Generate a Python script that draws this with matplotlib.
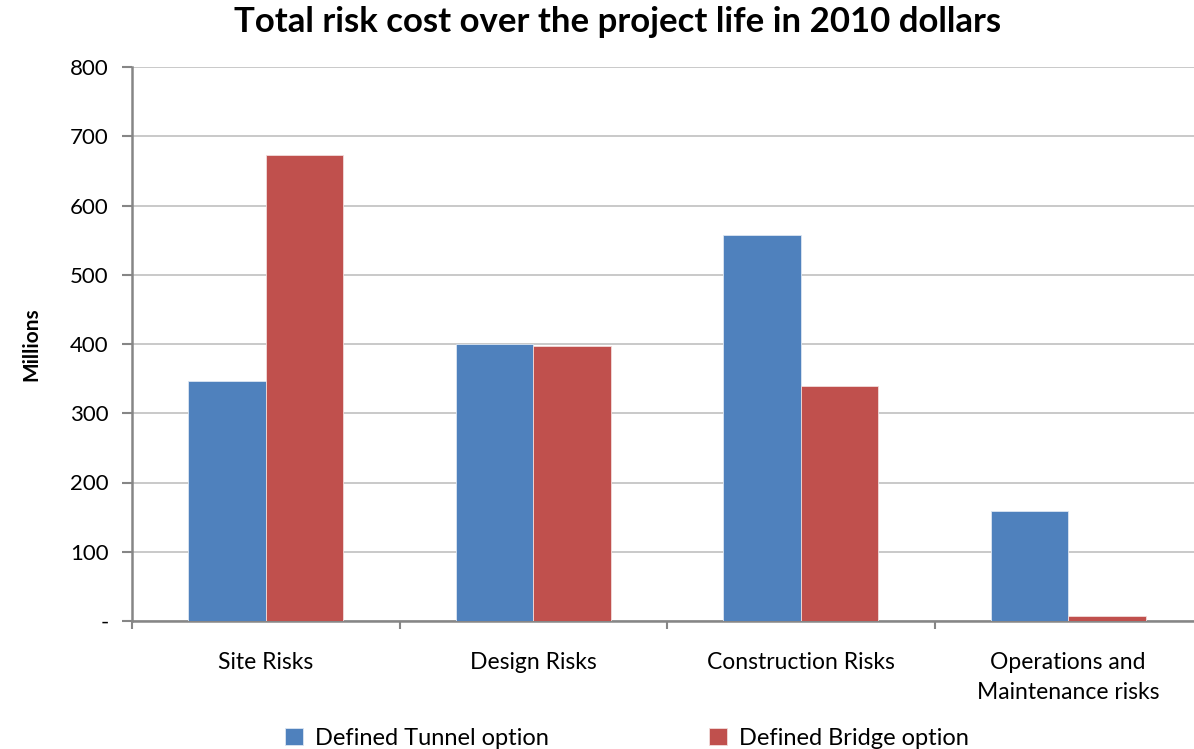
import matplotlib
matplotlib.use("Agg")
import matplotlib.pyplot as plt
import numpy as np
from matplotlib.ticker import FixedLocator

categories = ["Site Risks", "Design Risks", "Construction Risks", "Operations and\nMaintenance risks"]
tunnel = [347, 400, 558, 159]
bridge = [673, 397, 339, 7]
series_names = ["Defined Tunnel option", "Defined Bridge option"]
yticks = [0, 100, 200, 300, 400, 500, 600, 700, 800]
ytick_labels = ["-", "100", "200", "300", "400", "500", "600", "700", "800"]

plt.rcParams['font.family'] = ['Lato', 'DejaVu Sans']

fig = plt.figure(figsize=(11.94, 7.49), dpi=100)
ax = fig.add_axes([132/1194, 1-621/749, (1202-132)/1194, (621-67)/749])

x = np.arange(len(categories))
w = 0.29
blue = "#4F81BD"
red = "#C0504D"
ax.bar(x - w/2, tunnel, w, color=blue, edgecolor="#dce6f2", linewidth=0.6, label=series_names[0], zorder=3)
ax.bar(x + w/2, bridge, w, color=red, edgecolor="#f2dcdb", linewidth=0.6, label=series_names[1], zorder=3)

ax.set_xlim(-0.5, len(categories) - 0.5)
ax.set_ylim(0, 800)
ax.set_yticks(yticks)
ax.set_yticklabels(ytick_labels, fontsize=16)
ax.yaxis.grid(True, color="#c0c0c0", linewidth=1.2, zorder=0)
ax.set_axisbelow(True)

ax.set_xticks(x)
ax.set_xticklabels(categories, fontsize=16.5, linespacing=1.55)
ax.tick_params(axis='x', which='major', length=0, pad=22)
ax.xaxis.set_minor_locator(FixedLocator(np.arange(-0.5, len(categories), 1.0)))
ax.tick_params(axis='x', which='minor', length=6, color="#868686", width=1.5)
ax.tick_params(axis='y', length=7, color="#868686", width=1.5, pad=10)

for s in ["top", "right"]:
    ax.spines[s].set_visible(False)
for s in ["left", "bottom"]:
    ax.spines[s].set_color("#868686")
    ax.spines[s].set_linewidth(1.8)

ax.set_ylabel("Millions", fontsize=15, fontweight="bold", labelpad=20)
fig.suptitle("Total risk cost over the project life in 2010 dollars", fontsize=25, fontweight="bold", y=0.992, x=0.517)

leg = fig.legend(loc="lower center", ncol=2, frameon=False, fontsize=17,
                 bbox_to_anchor=(0.525, -0.028), handlelength=0.75, handleheight=0.75,
                 columnspacing=6.8, handletextpad=0.5)

fig.savefig("out.png", dpi=100)
